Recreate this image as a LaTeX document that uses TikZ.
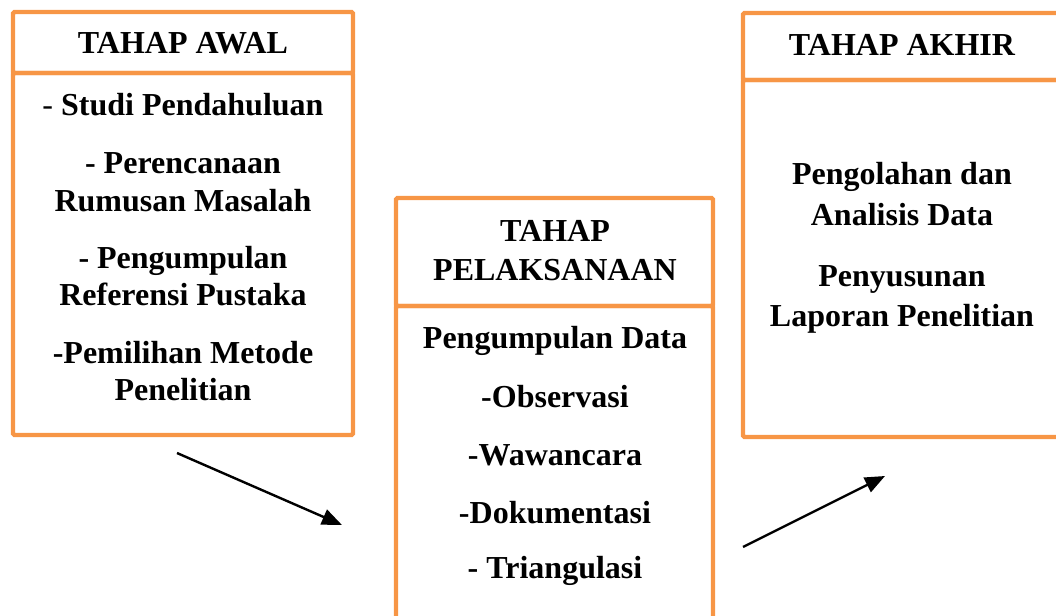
\documentclass[tikz,border=0pt]{standalone}
\usepackage{fontspec}
\setmainfont{Liberation Serif}
\usetikzlibrary{arrows.meta}
\definecolor{oranye}{HTML}{F79646}
\tikzset{
  kotak/.style={draw=oranye, line width=2.2pt, rounded corners=0.8pt},
  teks/.style={anchor=base, inner sep=0pt, font=\fontsize{16}{19}\selectfont\bfseries},
  panah/.style={line width=1.2pt, -{Triangle[length=10pt,width=8pt]}}
}
\begin{document}
\begin{tikzpicture}[x=0.5pt,y=-0.5pt]
\useasboundingbox (0,0) rectangle (1056,616);
\clip (0,0) rectangle (1056,616);
% tahap awal
\draw [kotak] (13,12) rectangle (353,73);
\draw [kotak] (13,73) rectangle (353,435);
\node [teks] (awal) at (183,53) {TAHAP AWAL};
\node [teks] (awal1) at (183,115) {{\mdseries -} Studi Pendahuluan};
\node [teks] (awal2) at (183,173) {- Perencanaan};
\node [teks] (awal3) at (183,211) {Rumusan Masalah};
\node [teks] (awal4) at (183,268) {- Pengumpulan};
\node [teks] (awal5) at (183,305) {Referensi Pustaka};
\node [teks] (awal6) at (183,363) {-Pemilihan Metode};
\node [teks] (awal7) at (183,400) {Penelitian};
% tahap pelaksanaan
\draw [kotak] (396,198) rectangle (713,306);
\draw [kotak] (396,306) rectangle (713,640);
\node [teks] (laks) at (555,241) {TAHAP};
\node [teks] (laksb) at (555,280) {PELAKSANAAN};
\node [teks] (laks1) at (555,348) {Pengumpulan Data};
\node [teks] (laks2) at (555,407) {-Observasi};
\node [teks] (laks3) at (555,465) {-Wawancara};
\node [teks] (laks4) at (555,523) {-Dokumentasi};
\node [teks] (laks5) at (555,578) {- Triangulasi};
% tahap akhir
\draw [kotak] (743,13) rectangle (1062,80);
\draw [kotak] (743,80) rectangle (1062,437);
\node [teks] (akhir) at (902,55) {TAHAP AKHIR};
\node [teks] (akhir1) at (902,184) {Pengolahan dan};
\node [teks] (akhir2) at (902,225) {Analisis Data};
\node [teks] (akhir3) at (902,286) {Penyusunan};
\node [teks] (akhir4) at (902,326) {Laporan Penelitian};
% panah
\coordinate (p1a) at (177,453);
\coordinate (p1b) at (342,525);
\coordinate (p2a) at (743,547);
\coordinate (p2b) at (885,476);
\draw [panah] (p1a) -- (p1b);
\draw [panah] (p2a) -- (p2b);
\end{tikzpicture}
\end{document}
